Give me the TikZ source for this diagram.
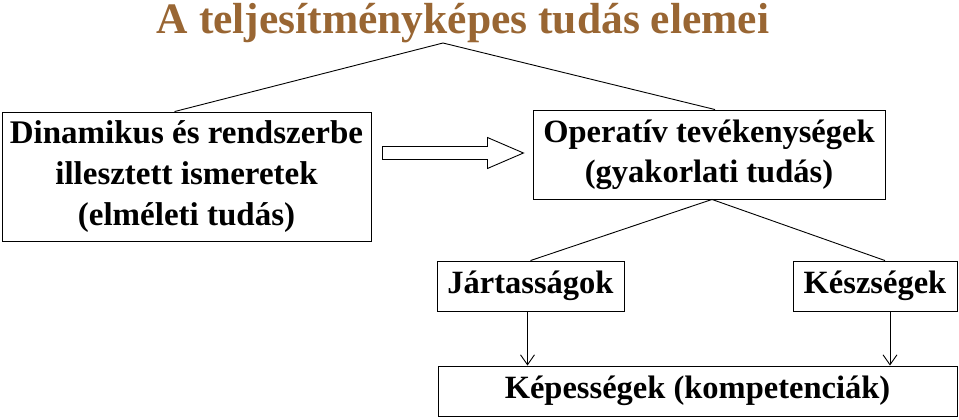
\documentclass[tikz,border=0pt]{standalone}
\usepackage{fontspec}
\setmainfont{Liberation Serif}
\usetikzlibrary{arrows.meta, positioning, calc}
\definecolor{titlebrown}{RGB}{153,102,51}

\tikzset{
    tudasbox/.style={draw, line width=0.9pt, inner sep=0pt, align=center,
        font=\fontsize{33}{41}\selectfont\bfseries},
    kisbox/.style={tudasbox, font=\fontsize{32.5}{40}\selectfont\bfseries},
    agline/.style={line width=0.9pt},
    lefele/.style={line width=0.9pt, -{Straight Barb[length=10pt, width=14pt]}}
}

\begin{document}
\begin{tikzpicture}[x=1pt, y=-1pt]
    \useasboundingbox (0,0) rectangle (959,420);

    % Title
    \node[anchor=base, inner sep=0pt, font=\fontsize{43.5}{46}\selectfont\bfseries,
        text=titlebrown] (cim) at (463,34)
        {A teljesítményképes tudás elemei};

    % Boxes
    \node[tudasbox, minimum width=369pt, minimum height=129pt] (dinamikus) at (186.5,176.5)
        {Dinamikus és rendszerbe\\illesztett ismeretek\\(elméleti tudás)};
    \node[kisbox, minimum width=352pt, minimum height=89pt] (operativ) at (709,154.5)
        {Operatív tevékenységek\\(gyakorlati tudás)};
    \node[kisbox, minimum width=187pt, minimum height=50pt] (jartas) at (530.5,286)
        {Jártasságok};
    \node[kisbox, minimum width=164pt, minimum height=50pt] (keszseg) at (875,286)
        {Készségek};
    \node[kisbox, minimum width=519pt, minimum height=50pt] (kepesseg) at (697.5,391)
        {Képességek (kompetenciák)};

    % Branch from the top
    \coordinate (csucs) at (443,43);
    \draw[agline] ([xshift=173pt]dinamikus.north west) -- (csucs)
        -- ([xshift=6pt]operativ.north);

    % Branch below the operative box
    \draw[agline] (jartas.north) -- ([xshift=3pt]operativ.south)
        -- ([xshift=10pt]keszseg.north);

    % Down arrows
    \draw[lefele] ([xshift=-3pt]jartas.south) -- ([xshift=-3pt]jartas.south |- kepesseg.north);
    \draw[lefele] ([xshift=15pt]keszseg.south) -- ([xshift=15pt]keszseg.south |- kepesseg.north);

    % Block arrow between the two boxes
    \draw[line width=0.9pt, fill=white]
        ($(dinamikus.east)+(11,-30)$) -- ++(105,0) -- ++(0,-9) -- ++(36,15.5)
        -- ++(-36,15.5) -- ++(0,-9) -- ++(-105,0) -- cycle;
\end{tikzpicture}
\end{document}
